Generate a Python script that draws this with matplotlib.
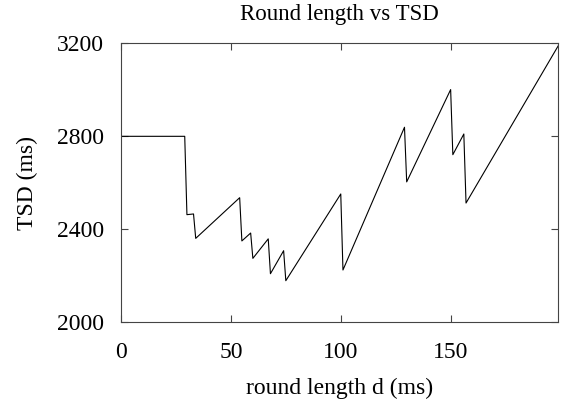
import matplotlib
matplotlib.use("Agg")
import matplotlib.pyplot as plt

# round length d (ms) and TSD (ms) at the break points of the curve
round_length = [0, 29, 30, 33, 34, 54, 55, 59, 60, 67, 68, 74, 75,
                100, 101, 129, 130, 150, 151, 156, 157, 199]
tsd = [2800, 2800, 2463, 2466, 2361, 2536, 2350, 2384, 2275, 2359, 2209,
       2308, 2179, 2552, 2225, 2839, 2604, 3001, 2721, 2810, 2513, 3190]

x_ticks = [0, 50, 100, 150]
y_ticks = [2000, 2400, 2800, 3200]

plt.rcParams.update({
    "font.family": ["Liberation Serif", "DejaVu Serif"],
    "font.size": 17,
})

fig = plt.figure(figsize=(5.67, 4.11), dpi=100)
ax = fig.add_axes([0.2134, 0.2158, 0.7713, 0.6788])

ax.plot(round_length, tsd, color="black", linewidth=0.8)

ax.set_xlim(0, 199)
ax.set_ylim(2000, 3200)
ax.set_xticks(x_ticks)
ax.set_yticks(y_ticks)
ax.tick_params(direction="in", length=5, width=0.8, top=True, right=True,
               labelsize=17, color="#444444")
ax.tick_params(axis="x", pad=14)
ax.tick_params(axis="y", pad=12)
for spine in ax.spines.values():
    spine.set_linewidth(0.8)
    spine.set_color("#444444")

ax.set_title("Round length vs TSD", fontsize=16.5, pad=17)
ax.set_xlabel("round length d (ms)", fontsize=17, labelpad=11)
ax.set_ylabel("TSD (ms)", fontsize=17, labelpad=14)

fig.savefig("out.png", dpi=100)
